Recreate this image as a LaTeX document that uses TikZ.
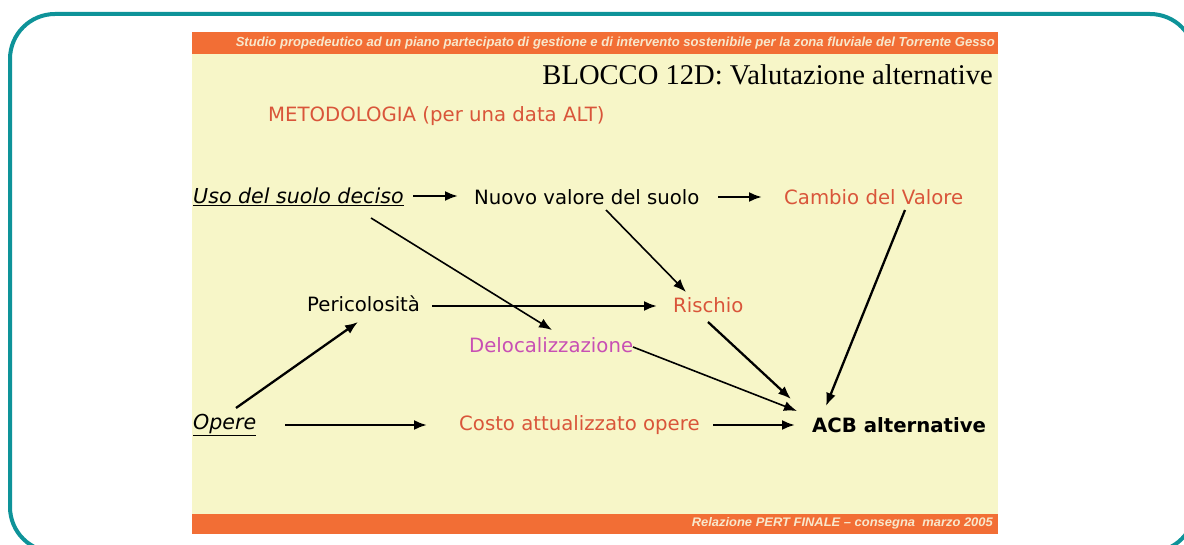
\documentclass[tikz,border=0pt]{standalone}
\usepackage{fontspec}
\setmainfont{DejaVu Sans}
\newfontfamily\serifT{Liberation Serif}
\newfontfamily\arialT{Liberation Sans}
\usetikzlibrary{arrows.meta,calc}
\definecolor{frameteal}{HTML}{0E9399}
\definecolor{barorange}{HTML}{F26E35}
\definecolor{slideyellow}{HTML}{F7F6C8}
\definecolor{bartext}{HTML}{F8E8CC}
\definecolor{redtext}{HTML}{D9553A}
\definecolor{magtext}{HTML}{C84FB4}
\tikzset{
  x=1pt,y=1pt,
  lbl/.style={anchor=west,inner sep=0pt,font=\fontsize{19.7}{22}\selectfont},
  arr/.style={-{Latex[length=13pt,width=10pt]},line width=2.3pt,black},
  thinarr/.style={-{Latex[length=13pt,width=10pt]},line width=1.6pt,black},
}
\begin{document}
\begin{tikzpicture}
\useasboundingbox (0,0) rectangle (1184,-545);
\fill[white] (0,0) rectangle (1184,-545);
% slide
\fill[slideyellow] (192,-54) rectangle (998,-514);
\fill[barorange] (192,-32) rectangle (998,-54);
\fill[barorange] (192,-514) rectangle (998,-534);
\node[anchor=east,inner sep=0pt,text=bartext] (hdr) at (995,-43)
  {\resizebox{759pt}{9.5pt}{\arialT\bfseries\itshape Studio propedeutico ad un piano partecipato di gestione e di intervento sostenibile per la zona fluviale del Torrente Gesso}};
\node[anchor=east,inner sep=0pt,text=bartext] (ftr) at (993,-523)
  {\resizebox{301pt}{9pt}{\arialT\bfseries\itshape Relazione PERT FINALE – consegna\ \ marzo 2005}};
\node[anchor=east,inner sep=0pt] (title) at (993,-75)
  {\serifT\fontsize{28.6}{30}\selectfont BLOCCO 12D: Valutazione alternative};
\node[lbl,text=redtext] (metod) at (268,-116) {METODOLOGIA (per una data ALT)};
% nodes
\node[lbl] (uso) at (193,-197) {\fontsize{20.6}{22}\selectfont\itshape\underline{Uso del suolo deciso}};
\node[lbl] (nuovo) at (474,-197) {Nuovo valore del suolo};
\node[lbl,text=redtext] (cambio) at (784,-197) {Cambio del Valore};
\node[lbl] (peric) at (307,-304) {Pericolosità};
\node[lbl,text=redtext] (rischio) at (673,-305) {Rischio};
\node[lbl,text=magtext] (deloc) at (469,-345) {Delocalizzazione};
\node[lbl] (opere) at (193,-425) {\fontsize{20.6}{22}\selectfont\itshape\underline{Opere}};
\node[lbl,text=redtext] (costo) at (459,-425) {Costo attualizzato opere};
\node[lbl] (acb) at (812,-425) {\bfseries ACB alternative};
% connectors
\draw[arr] ([shift={(220,1)}]uso.west) -- ([shift={(-16,1)}]nuovo.west);
\draw[arr] ([shift={(244,0)}]nuovo.west) -- ([shift={(-22,0)}]cambio.west);
\draw[thinarr] ([shift={(178,-21)}]uso.west) -- ([shift={(83,15)}]deloc.west);
\draw[thinarr] ([shift={(132,-13)}]nuovo.west) -- ([shift={(13,13)}]rischio.west);
\draw[arr] ([shift={(125,-2)}]peric.west) -- ([shift={(-16,-1)}]rischio.west);
\draw[arr] ([shift={(43,17)}]opere.west) -- ([shift={(51,-18)}]peric.west);
\draw[arr] ([shift={(121,-13)}]cambio.west) -- ([shift={(14,19)}]acb.west);
\draw[arr] ([shift={(35,-17)}]rischio.west) -- ([shift={(-21,26)}]acb.west);
\draw[thinarr] ([shift={(164,-2)}]deloc.west) -- ([shift={(-15,14)}]acb.west);
\draw[arr] ([shift={(92,0)}]opere.west) -- ([shift={(-32,0)}]costo.west);
\draw[arr] ([shift={(254,0)}]costo.west) -- ([shift={(-17,0)}]acb.west);
% frame
\draw[frameteal,line width=4pt,rounded corners=45pt] (10,-14) rectangle (1195,-552);
\end{tikzpicture}
\end{document}
